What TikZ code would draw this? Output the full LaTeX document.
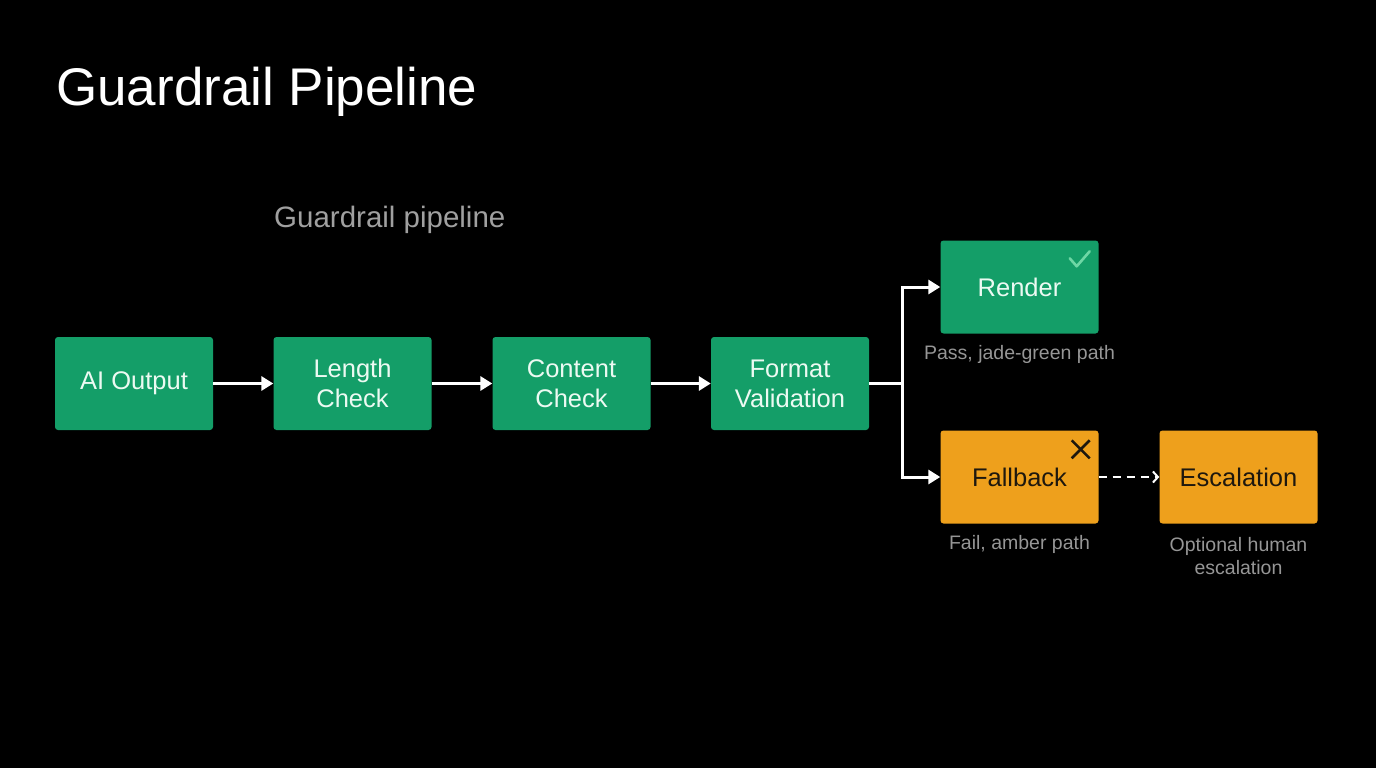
\documentclass[tikz,border=0pt]{standalone}
\usepackage{fontspec}
\setmainfont{Liberation Sans}
\usetikzlibrary{arrows.meta,positioning}
\definecolor{jade}{RGB}{20,158,104}
\definecolor{amber}{RGB}{238,160,28}
\definecolor{captiongray}{RGB}{150,150,150}
\definecolor{subgray}{RGB}{160,160,160}
\definecolor{amtext}{RGB}{30,24,14}
\definecolor{gtext}{RGB}{236,250,242}
\definecolor{checkgreen}{RGB}{110,215,165}
\begin{document}
\begin{tikzpicture}[x=1pt,y=-1pt,
  box/.style={rounded corners=3pt, minimum width=158pt, minimum height=93pt, inner sep=0pt, align=center, font=\fontsize{25.5}{30}\selectfont},
  gbox/.style={box, fill=jade, text=gtext},
  abox/.style={box, fill=amber, text=amtext},
  caption/.style={text=captiongray, font=\fontsize{19.5}{23.5}\selectfont, align=center},
  flow/.style={draw=white, line width=3pt, -{Triangle[length=12pt,width=14pt]}},
  plain/.style={draw=white, line width=3pt},
  dashflow/.style={draw=white, line width=2.5pt, dash pattern=on 8pt off 6pt, -{Straight Barb[length=5pt,width=11pt,line width=2pt]}}
]
\path[fill=black] (0,0) rectangle (1376,768);
\useasboundingbox (0,0) rectangle (1376,768);

\node[anchor=base west, text=white, font=\fontsize{53}{60}\selectfont, inner sep=0pt] (title) at (56,106) {Guardrail Pipeline};
\node[anchor=base west, text=subgray, font=\fontsize{29.5}{34}\selectfont, inner sep=0pt] (subtitle) at (274,227) {Guardrail pipeline};

\node[gbox] (ai) at (134,383.5) {AI Output};
\node[gbox] (len) at (352.5,383.5) {Length\\Check};
\node[gbox] (con) at (571.5,383.5) {Content\\Check};
\node[gbox] (fmt) at (790,383.5) {Format\\Validation};
\node[gbox] (ren) at (1019.5,287) {Render};
\node[abox] (fb) at (1019.5,477) {Fallback};
\node[abox] (esc) at (1238.5,477) {Escalation};

\node[caption] (capren) at (1019.5,354) {Pass, jade-green path};
\node[caption] (capfb) at (1019.5,544) {Fail, amber path};
\node[caption] (capesc) at (1238.5,556) {Optional human\\escalation};

\draw[flow] (ai) -- (len);
\draw[flow] (len) -- (con);
\draw[flow] (con) -- (fmt);
\coordinate (split) at (902,383.5);
\draw[plain] (fmt.east) -- (split);
\draw[flow] (split) |- (ren.west);
\draw[flow] (split) |- (fb.west);
\draw[dashflow] (fb.east) -- (esc.west);

% check mark
\draw[checkgreen, line width=2.6pt, line cap=round, line join=round]
  ([xshift=-29pt,yshift=-18pt]ren.north east) -- ([xshift=-22pt,yshift=-26pt]ren.north east) -- ([xshift=-9pt,yshift=-11pt]ren.north east);
% cross
\draw[amtext, line width=2.6pt]
  ([xshift=-27pt,yshift=-10pt]fb.north east) -- ([xshift=-9pt,yshift=-28pt]fb.north east)
  ([xshift=-27pt,yshift=-28pt]fb.north east) -- ([xshift=-9pt,yshift=-10pt]fb.north east);
\end{tikzpicture}
\end{document}
